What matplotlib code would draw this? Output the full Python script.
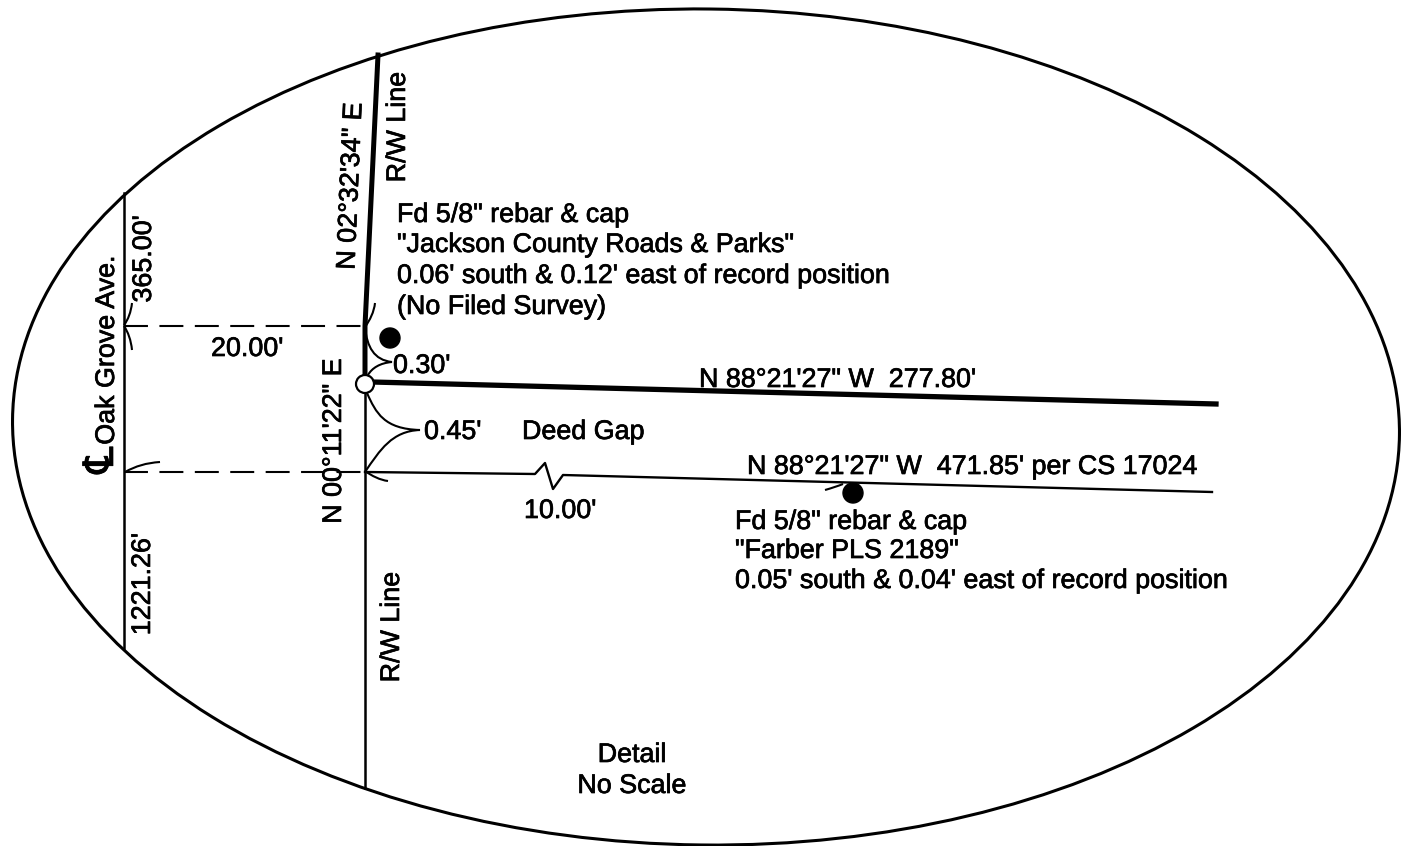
#!/usr/bin/env python3
import matplotlib
matplotlib.use("Agg")
import matplotlib.pyplot as plt
import matplotlib.patheffects as pe
from matplotlib.patches import Ellipse, Circle, PathPatch
from matplotlib.path import Path

W, H = 1403, 846

# line work, pixel coords
row_upper_x = [378, 365, 365]
row_upper_y = [55, 326, 378]
row_lower_x = [365, 365]
row_lower_y = [390, 788]
north_x = [372, 1216]
north_y = [382, 404]
south_x = [365, 535, 545, 553, 563, 1212]
south_y = [472, 474, 463, 489, 475, 492]
cl_x = [124, 124]
cl_y = [193, 648]
tie_north_x = [124, 362]
tie_north_y = [326, 326]
tie_south_x = [124, 365]
tie_south_y = [472, 472]

monuments = [(390, 338), (853, 493)]

# curved leaders, each one a run of cubic bezier segments
leader_045 = [(367, 393), (376, 413), (384, 429), (420, 430),
              (392, 431), (380, 450), (365, 472)]
leader_030 = [(365, 327), (367, 347), (374, 360), (392, 362),
              (380, 363), (372, 368), (368, 375)]
tick_cl_north = [(124, 325), (128, 320), (131, 312), (132, 303)]
tick_cl_north2 = [(124, 326), (128, 332), (131, 340), (132, 350)]
tick_row_north = [(365, 327), (370, 320), (374, 312), (375, 303)]
tick_cl_south = [(125, 472), (136, 466), (146, 463), (160, 462)]
tick_row_south = [(365, 471), (372, 476), (380, 480), (388, 481)]
tick_monument = [(825, 490), (832, 488), (838, 486), (843, 484)]

labels = [
    (397, 215, "Fd 5/8\" rebar & cap"),
    (397, 245, "\"Jackson County Roads & Parks\""),
    (397, 276, "0.06' south & 0.12' east of record position"),
    (397, 307, "(No Filed Survey)"),
    (393, 366, "0.30'"),
    (211, 349, "20.00'"),
    (699, 380, "N 88\u00b021'27\" W  277.80'"),
    (424, 432, "0.45'"),
    (522, 432, "Deed Gap"),
    (747, 467, "N 88\u00b021'27\" W  471.85' per CS 17024"),
    (524, 511, "10.00'"),
    (735, 522, "Fd 5/8\" rebar & cap"),
    (735, 551, "\"Farber PLS 2189\""),
    (735, 581, "0.05' south & 0.04' east of record position"),
]
centered = [(632, 755, "Detail"), (632, 786, "No Scale")]
rotated = [
    (351, 186, "N 02\u00b032'34\" E", 87.5),
    (398, 127, "R/W Line", 90),
    (144, 259, "365.00'", 90),
    (107, 350, "Oak Grove Ave.", 90),
    (334, 441, "N 00\u00b011'22\" E", 90),
    (143, 584, "1221.26'", 90),
    (392, 627, "R/W Line", 90),
]
centerline_mark = (102, 460, "\u2104")

plt.rcParams['font.family'] = ['Liberation Sans', 'DejaVu Sans']


def curve(ax, pts, lw=1.5):
    codes = [Path.MOVETO] + [Path.CURVE4] * (len(pts) - 1)
    ax.add_patch(PathPatch(Path(pts, codes), fill=False, ec='k', lw=lw, zorder=2))


fig = plt.figure(figsize=(W / 100, H / 100), dpi=100, facecolor='w')
ax = fig.add_axes([0, 0, 1, 1])
ax.set_xlim(0, W)
ax.set_ylim(H, 0)
ax.axis('off')

# the outline sits slightly tilted, right side lower
ax.add_patch(Ellipse((706, 427), 1387, 836, angle=0.65, fill=False, ec='k', lw=2.2))

ax.plot(row_upper_x, row_upper_y, 'k', lw=3.6)
ax.plot(row_lower_x, row_lower_y, 'k', lw=1.8)
ax.plot(north_x, north_y, 'k', lw=3.8)
ax.plot(south_x, south_y, 'k', lw=1.7)
ax.plot(cl_x, cl_y, 'k', lw=1.8)
ax.plot(tie_north_x, tie_north_y, 'k', lw=1.5, dashes=(11.5, 5.5))
ax.plot(tie_south_x, tie_south_y, 'k', lw=1.5, dashes=(11.5, 5.5))

for pts in (leader_045, leader_030, tick_cl_north, tick_cl_north2,
            tick_row_north, tick_cl_south, tick_row_south, tick_monument):
    curve(ax, pts)

for mx, my in monuments:
    ax.add_patch(Circle((mx, my), 10, fc='k', ec='k', zorder=3))
ax.add_patch(Circle((365, 384), 9, fc='w', ec='k', lw=1.6, zorder=3))

# the scan is heavier than the plain font, so thicken the glyphs a little
heavy = [pe.withStroke(linewidth=0.5, foreground='k')]
for x, y, s in labels:
    ax.text(x, y, s, fontsize=19.35, ha='left', va='center', path_effects=heavy)
for x, y, s in centered:
    ax.text(x, y, s, fontsize=19.35, ha='center', va='center', path_effects=heavy)
for x, y, s, r in rotated:
    ax.text(x, y, s, fontsize=19.35, ha='center', va='center', rotation=r,
            rotation_mode='anchor', path_effects=heavy)
ax.text(centerline_mark[0], centerline_mark[1], centerline_mark[2], fontsize=30,
        ha='center', va='center', rotation=90, path_effects=heavy)

fig.savefig("out.png", dpi=100)
